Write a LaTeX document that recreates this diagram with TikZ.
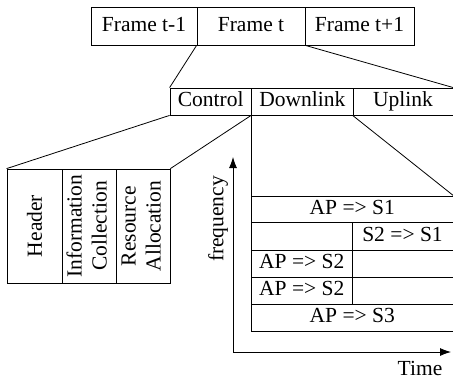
\documentclass[tikz,border=0pt]{standalone}
\usepackage{fontspec}
\setmainfont{Liberation Serif}
\usetikzlibrary{arrows.meta}
\begin{document}
\begin{tikzpicture}[x=1pt,y=-1pt,
  cell/.style={draw, line width=0.8pt, inner sep=0pt, font=\fontsize{21.5}{25}\selectfont},
  hcell/.style={cell, text height=14.5pt, text depth=4.5pt},
  lbl/.style={inner sep=0pt, font=\fontsize{21.5}{25}\selectfont},
  conn/.style={line width=0.8pt},
  axis/.style={line width=0.8pt, -{Latex[length=11pt,width=8pt]}}]
\useasboundingbox (0,0) rectangle (453,381);
% frames
\node[hcell, minimum width=106pt, minimum height=38pt] (f1) at (144,26) {Frame t-1};
\node[hcell, minimum width=108pt, minimum height=38pt] (f2) at (251,26) {Frame t};
\node[hcell, minimum width=109pt, minimum height=38pt] (f3) at (359.5,26) {Frame t+1};
% control row
\node[hcell, minimum width=81.5pt, minimum height=27pt] (c) at (210.75,101.5) {Control};
\node[hcell, minimum width=101.5pt, minimum height=27pt] (d) at (302.25,101.5) {Downlink};
\node[hcell, minimum width=100pt, minimum height=27pt] (u) at (403,101.5) {Uplink};
% header block
\node[cell, minimum width=55pt, minimum height=114pt] (h1) at (34.5,226) {\rotatebox{90}{Header}};
\node[cell, minimum width=54pt, minimum height=114pt] (h2) at (89,226) {\rotatebox{90}{\begin{tabular}{@{}c@{}}Information\\Collection\end{tabular}}};
\node[cell, minimum width=54pt, minimum height=114pt] (h3) at (143,226) {\rotatebox{90}{\begin{tabular}{@{}c@{}}Resource\\Allocation\end{tabular}}};
% table
\node[hcell, minimum width=201.5pt, minimum height=26pt] (r1) at (352.25,209) {AP => S1};
\node[hcell, minimum width=100.5pt, minimum height=28pt] (r2a) at (301.75,236) {};
\node[hcell, minimum width=101pt, minimum height=28pt] (r2b) at (402.5,236) {S2 => S1};
\node[hcell, minimum width=100.5pt, minimum height=27pt] (r3a) at (301.75,263.5) {AP => S2};
\node[hcell, minimum width=101pt, minimum height=27pt] (r3b) at (402.5,263.5) {};
\node[hcell, minimum width=100.5pt, minimum height=27pt] (r4a) at (301.75,290.5) {AP => S2};
\node[hcell, minimum width=101pt, minimum height=27pt] (r4b) at (402.5,290.5) {};
\node[hcell, minimum width=201.5pt, minimum height=27pt] (r5) at (352.25,317.5) {AP => S3};
% connectors
\draw[conn] (f2.south west) -- (c.north west);
\draw[conn] (f2.south east) -- (u.north east);
\draw[conn] (c.south west) -- (h1.north west);
\draw[conn] (d.south west) -- (h3.north east);
\draw[conn] (d.south west) -- (r1.north west);
\draw[conn] (u.south west) -- (r1.north east);
% axes
\coordinate (o) at (233,352);
\coordinate (ytop) at (233,157);
\coordinate (xend) at (451,352);
\draw[axis] (o) -- (ytop);
\draw[axis] (o) -- (xend);
\node[lbl, rotate=90] (freq) at (218,219) {frequency};
\node[lbl] (time) at (420,368) {Time};
\end{tikzpicture}
\end{document}
